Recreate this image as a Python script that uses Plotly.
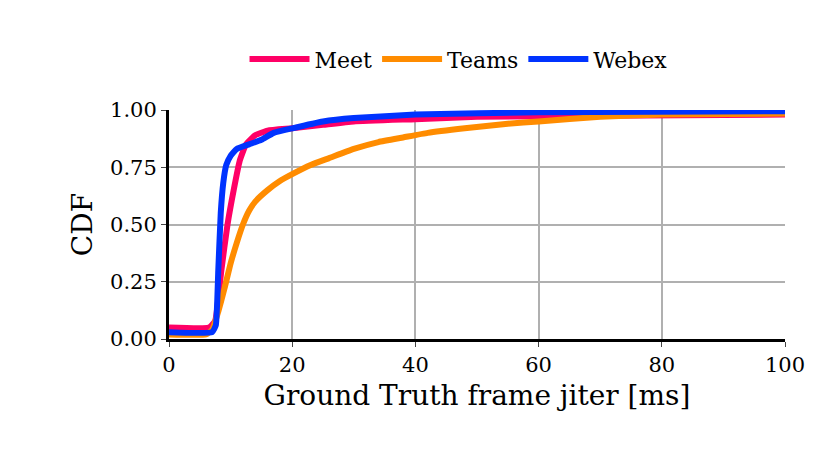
import plotly.graph_objects as go

meet_x = [0, 6.5, 7.5, 8.5, 9.5, 10.5, 11.5, 12.5, 14, 16, 20, 25, 30, 40, 50, 70, 100]
meet_y = [0.05, 0.05, 0.08, 0.3, 0.5, 0.65, 0.78, 0.85, 0.89, 0.91, 0.92, 0.935, 0.95, 0.96, 0.97, 0.975, 0.98]
teams_x = [0, 6, 7, 8, 9, 10, 11, 12, 13, 14, 16, 18, 20, 23, 26, 30, 34, 38, 42, 48, 55, 60, 70, 80, 100]
teams_y = [0.02, 0.02, 0.04, 0.12, 0.22, 0.33, 0.42, 0.5, 0.56, 0.6, 0.65, 0.69, 0.72, 0.76, 0.79, 0.83, 0.86, 0.88, 0.9, 0.92, 0.94, 0.95, 0.97, 0.98, 0.985]
webex_x = [0, 7, 7.6, 8, 8.4, 8.8, 9.3, 10, 11, 13, 15, 17, 20, 25, 30, 40, 60, 100]
webex_y = [0.03, 0.03, 0.06, 0.3, 0.55, 0.68, 0.76, 0.8, 0.83, 0.85, 0.87, 0.9, 0.92, 0.95, 0.965, 0.98, 0.99, 0.995]

fig = go.Figure()
for name, xs, ys, c in [("Meet", meet_x, meet_y, "#ff0066"),
                        ("Teams", teams_x, teams_y, "#ff8c00"),
                        ("Webex", webex_x, webex_y, "#0033ff")]:
    fig.add_trace(go.Scatter(x=xs, y=ys, name=name, mode="lines",
                             line=dict(color=c, width=6, shape="spline", smoothing=0.4)))

fig.update_layout(
    width=830, height=458, paper_bgcolor="white", plot_bgcolor="white",
    margin=dict(l=161, r=53, t=102, b=127, autoexpand=False),
    font=dict(family="DejaVu Serif", size=21, color="black"),
    legend=dict(orientation="h", x=0.47, xanchor="center", y=1.13, yanchor="bottom",
                font=dict(size=22), itemwidth=60, tracegroupgap=20),
    xaxis=dict(range=[0, 100], tickvals=[0, 20, 40, 60, 80, 100], showgrid=True,
               gridcolor="#b0b0b0", gridwidth=2, showline=True, linecolor="black",
               linewidth=3, ticks="outside", ticklen=5, zeroline=False, automargin=False,
               title=dict(text="Ground Truth frame jiter [ms]", font=dict(size=28), standoff=10)),
    yaxis=dict(range=[0, 1], tickvals=[0, 0.25, 0.5, 0.75, 1.0],
               ticktext=["0.00", "0.25", "0.50", "0.75", "1.00"], showgrid=True,
               gridcolor="#b0b0b0", gridwidth=2, showline=True, linecolor="black",
               linewidth=3, ticks="outside", ticklen=5, zeroline=False, automargin=False,
               title=dict(text="CDF", font=dict(size=28), standoff=10)),
)
fig.write_html("out.html")
